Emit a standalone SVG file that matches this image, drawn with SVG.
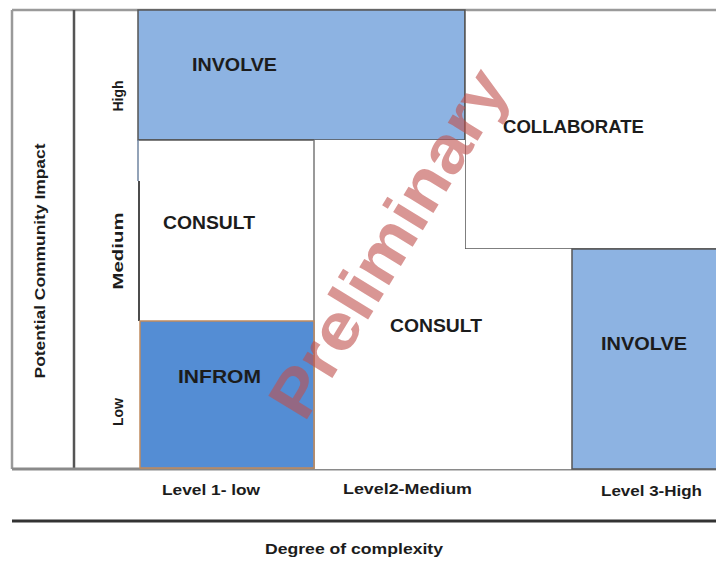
<svg xmlns="http://www.w3.org/2000/svg" width="716" height="570" viewBox="0 0 716 570">
  <style>
    .lbl { font-family: "Liberation Sans", Arial, sans-serif; font-weight: bold; fill: #1c1c1c; }
    .cell { font-size: 19px; }
    .axis { font-size: 14px; }
    .light { fill: #8DB3E2; stroke: #555555; stroke-width: 1.5; }
    .white { fill: #FFFFFF; stroke: #555555; stroke-width: 1.5; }
    .frame { stroke: #9a9a9a; stroke-width: 2.5; fill: none; }
  </style>

  <rect x="0" y="0" width="716" height="570" fill="#FFFFFF"/>

  <!-- axis frame: label columns and base lines -->
  <g id="axes">
    <line class="frame" x1="12" y1="10" x2="716" y2="10"/>
    <line class="frame" x1="12" y1="10" x2="12" y2="469"/>
    <line x1="74" y1="10" x2="74" y2="469" stroke="#555555" stroke-width="2.5"/>
    <line x1="12" y1="469" x2="716" y2="469" stroke="#8a8a8a" stroke-width="3"/>
    <line x1="12" y1="521" x2="716" y2="521" stroke="#333333" stroke-width="3"/>
  </g>

  <!-- matrix cells -->
  <g id="involve-top">
    <rect class="light" x="138" y="10" width="327" height="130"/>
    <text class="lbl cell" x="192" y="71" textLength="85" lengthAdjust="spacingAndGlyphs">INVOLVE</text>
  </g>

  <g id="collaborate">
    <path d="M465 10 V249 H716" fill="#FFFFFF" stroke="#555555" stroke-width="1.5"/>
    <text class="lbl cell" x="503" y="133" textLength="141" lengthAdjust="spacingAndGlyphs">COLLABORATE</text>
  </g>

  <g id="consult-left">
    <rect x="139" y="140" width="175" height="181" fill="#FFFFFF"/>
    <line x1="139" y1="140" x2="314" y2="140" stroke="#555555" stroke-width="1.5"/>
    <line x1="139" y1="181" x2="139" y2="321" stroke="#111111" stroke-width="1.5"/>
    <line x1="138" y1="140" x2="138" y2="181" stroke="#6f84a0" stroke-width="1.5"/>
    <text class="lbl cell" x="163" y="229" textLength="92" lengthAdjust="spacingAndGlyphs">CONSULT</text>
  </g>

  <g id="consult-middle">
    <path d="M314 140 V469 H572 V249 H465 V140" fill="#FFFFFF" stroke="none"/>
    <line x1="314" y1="140" x2="314" y2="469" stroke="#777777" stroke-width="1.5"/>
    <text class="lbl cell" x="390" y="332" textLength="92" lengthAdjust="spacingAndGlyphs">CONSULT</text>
  </g>

  <g id="infrom">
    <rect x="140" y="321" width="174" height="147" fill="#548DD4" stroke="#C08A5E" stroke-width="1.5"/>
    <text class="lbl cell" x="178" y="383" textLength="83" lengthAdjust="spacingAndGlyphs">INFROM</text>
  </g>

  <g id="involve-right">
    <rect class="light" x="572" y="249" width="146" height="220"/>
    <text class="lbl cell" x="601" y="350" textLength="86" lengthAdjust="spacingAndGlyphs">INVOLVE</text>
  </g>

  <!-- impact axis labels -->
  <g id="impact-labels">
    <text class="lbl" font-size="14" transform="translate(45 261) rotate(-90)" text-anchor="middle" textLength="235" lengthAdjust="spacingAndGlyphs">Potential Community Impact</text>
    <text class="lbl axis" transform="translate(123 96) rotate(-90)" text-anchor="middle">High</text>
    <text class="lbl axis" transform="translate(123 251) rotate(-90)" text-anchor="middle" textLength="77" lengthAdjust="spacingAndGlyphs">Medium</text>
    <text class="lbl axis" transform="translate(123 412) rotate(-90)" text-anchor="middle">Low</text>
  </g>

  <!-- complexity axis labels -->
  <g id="complexity-labels">
    <text class="lbl axis" x="162" y="495" textLength="98" lengthAdjust="spacingAndGlyphs">Level 1- low</text>
    <text class="lbl axis" x="343" y="494" textLength="129" lengthAdjust="spacingAndGlyphs">Level2-Medium</text>
    <text class="lbl axis" x="601" y="496" textLength="101" lengthAdjust="spacingAndGlyphs">Level 3-High</text>
    <text class="lbl axis" x="265" y="554" textLength="178" lengthAdjust="spacingAndGlyphs">Degree of complexity</text>
  </g>

  <!-- watermark -->
  <g id="watermark">
    <text x="0" y="0" transform="translate(388 243) rotate(-58.5)" text-anchor="middle" dominant-baseline="central" font-family="'Liberation Sans', Arial, sans-serif" font-weight="bold" font-size="66" fill="#C0504D" fill-opacity="0.6" textLength="395" lengthAdjust="spacingAndGlyphs">Preliminary</text>
  </g>
</svg>
